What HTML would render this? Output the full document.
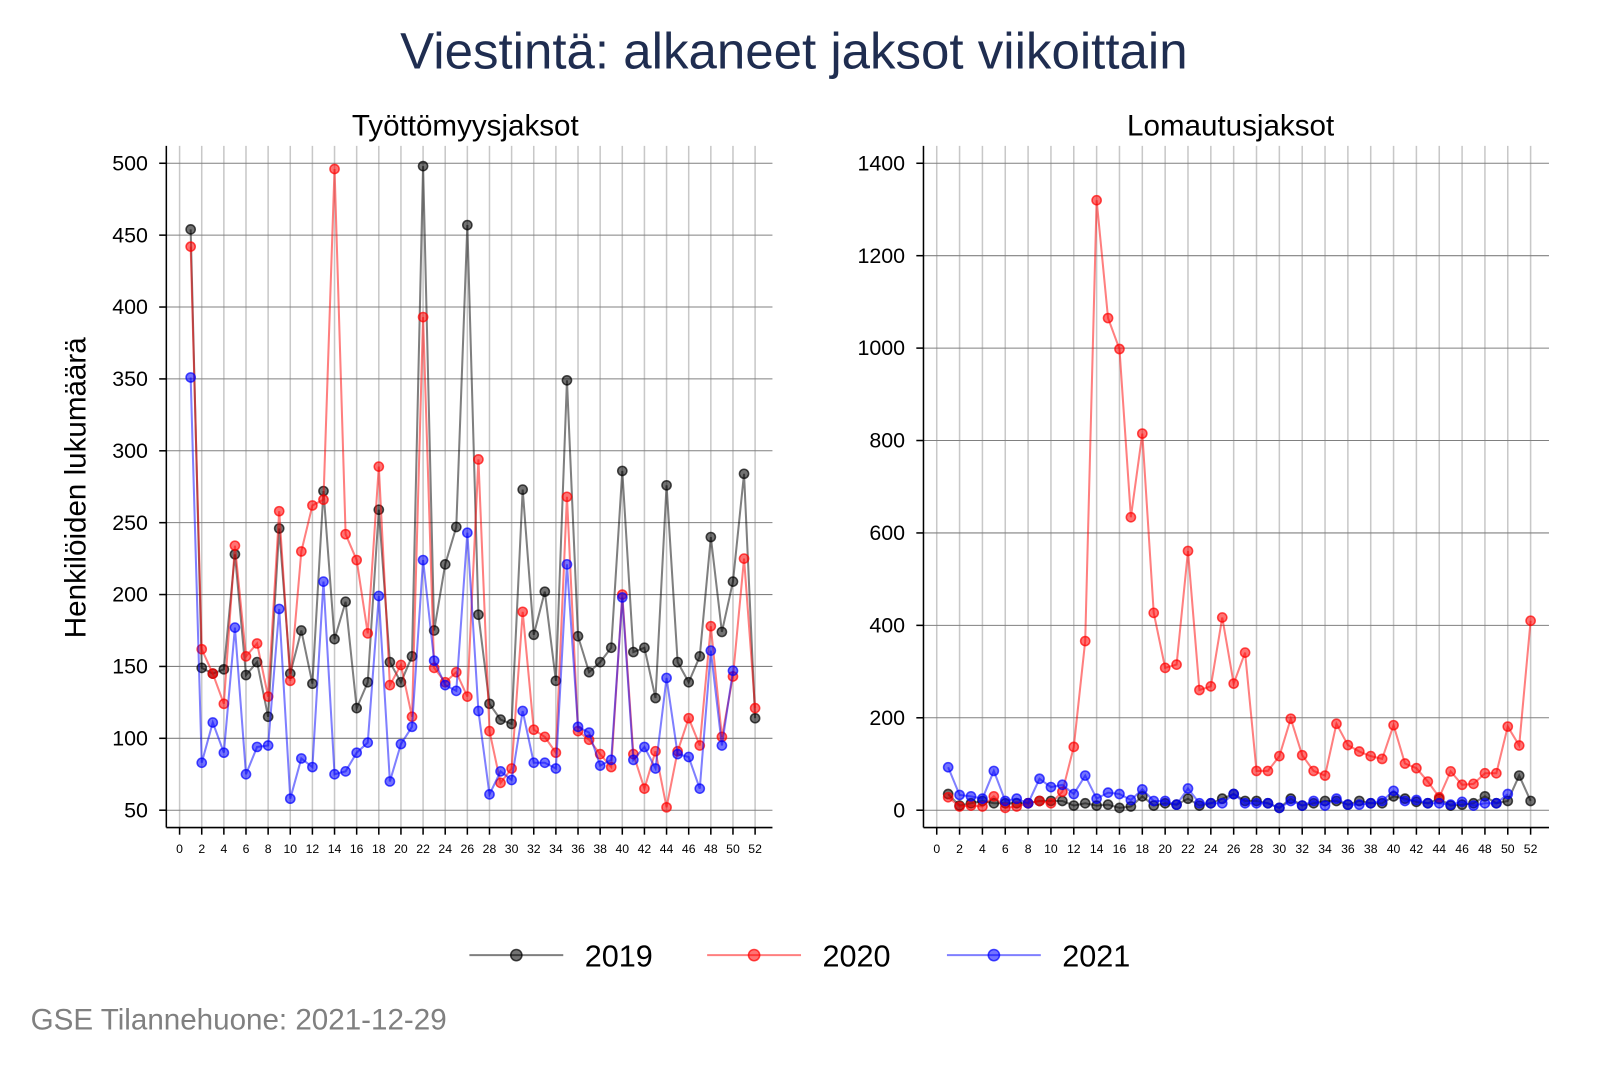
<!DOCTYPE html>
<html><head><meta charset="utf-8"><style>
body{margin:0;background:#fff;}
svg text{font-family:"Liberation Sans",Arial,sans-serif;}
</style></head><body>
<svg id="c" width="1600" height="1067" viewBox="0 0 1568 1045.66" xmlns="http://www.w3.org/2000/svg">
<text x="778" y="67" text-anchor="middle" font-size="50" fill="#1f2d50">Viestintä: alkaneet jaksot viikoittain</text>
<text x="456" y="133" text-anchor="middle" font-size="29" fill="#000">Työttömyysjaksot</text>
<text x="1206" y="133" text-anchor="middle" font-size="29" fill="#000">Lomautusjaksot</text>
<text transform="translate(84,478) rotate(-90)" text-anchor="middle" font-size="29" fill="#000">Henkilöiden lukumäärä</text>
<g id="left"></g>
<g id="right"></g>
<g id="legend"></g>
<text x="30" y="1009" font-size="29" fill="#808080">GSE Tilannehuone: 2021-12-29</text>
</svg>
<script>
const weeks = Array.from({length:52},(_,i)=>i+1);
const years = ['2019','2020','2021'];
const unemp2019 = [454,149,145,148,228,144,153,115,246,145,175,138,272,169,195,121,139,259,153,139,157,498,175,221,247,457,186,124,113,110,273,172,202,140,349,171,146,153,163,286,160,163,128,276,153,139,157,240,174,209,284,114];
const unemp2020 = [442,162,145,124,234,157,166,129,258,140,230,262,266,496,242,224,173,289,137,151,115,393,149,139,146,129,294,105,69,79,188,106,101,90,268,105,99,89,80,200,89,65,91,52,91,114,95,178,101,143,225,121];
const unemp2021 = [351,83,111,90,177,75,94,95,190,58,86,80,209,75,77,90,97,199,70,96,108,224,154,137,133,243,119,61,77,71,119,83,83,79,221,108,104,81,85,198,85,94,79,142,89,87,65,161,95,147];
const layoff2019 = [35,10,15,20,15,15,15,15,20,20,20,10,15,10,12,5,8,30,10,15,12,25,10,15,25,35,20,20,15,5,25,10,15,20,20,12,20,15,15,30,25,18,15,25,10,12,15,30,15,20,75,20];
const layoff2020 = [28,8,10,8,30,5,8,15,20,15,40,137,366,1320,1065,998,634,815,427,308,315,561,260,268,417,274,341,85,85,117,198,119,85,75,187,141,127,117,111,184,101,91,62,28,84,55,57,80,80,181,140,410];
const layoff2021 = [93,33,30,25,85,20,25,15,68,50,55,35,75,25,38,35,22,45,20,20,12,47,15,15,15,35,15,15,15,5,20,10,20,10,25,12,12,15,20,42,20,22,15,15,12,18,10,15,15,35];
const leftTicks = [50,100,150,200,250,300,350,400,450,500];
const rightTicks = [0,200,400,600,800,1000,1200,1400];
const xTicks = Array.from({length:27},(_,i)=>i*2);
const colors = {fill:['#000000','#ff0000','#0000ff']};
const NS='http://www.w3.org/2000/svg';
function mk(parent,tag,attrs){const e=document.createElementNS(NS,tag);for(const k in attrs)e.setAttribute(k,attrs[k]);parent.appendChild(e);return e;}

function panel(g,cfg,series,ticks){
  const xs=w=>cfg.x0+(w)*(cfg.x52-cfg.x0)/52;
  const ys=v=>cfg.yb-(v-cfg.vmin)*(cfg.yb-cfg.yt)/(cfg.vmax-cfg.vmin);
  xTicks.forEach(t=>{
    const l=mk(g,'line',{x1:xs(t),x2:xs(t),y1:cfg.top,y2:cfg.bottom,stroke:'#c8c8c8','stroke-width':1.5});
    
    
  });
  ticks.forEach(t=>{
    const l=mk(g,'line',{x1:cfg.left,x2:cfg.right,y1:ys(t),y2:ys(t),stroke:'#808080','stroke-width':1});
    
    
    mk(g,'line',{x1:cfg.left-7,x2:cfg.left,y1:ys(t),y2:ys(t),stroke:'#000','stroke-width':1.5});
    const tx=mk(g,'text',{x:cfg.left-18,y:ys(t)+7,'text-anchor':'end','font-size':21,fill:'#000'});
    tx.textContent=t;
    
    
  });
  xTicks.forEach(t=>{
    mk(g,'line',{x1:xs(t),x2:xs(t),y1:cfg.bottom,y2:cfg.bottom+7,stroke:'#000','stroke-width':1.5});
    const tx=mk(g,'text',{x:xs(t),y:cfg.bottom+25,'text-anchor':'middle','font-size':12,fill:'#000'});
    tx.textContent=t;
    
    
  });
  mk(g,'line',{x1:cfg.left,x2:cfg.left,y1:cfg.top,y2:cfg.bottom,stroke:'#000','stroke-width':1.5});
  mk(g,'line',{x1:cfg.left,x2:cfg.right,y1:cfg.bottom,y2:cfg.bottom,stroke:'#000','stroke-width':1.5});
  series.forEach((vals,si)=>{
    const pts=vals.map((v,i)=>xs(weeks[i])+','+ys(v)).join(' ');
    const pl=mk(g,'polyline',{points:pts,fill:'none',stroke:colors.fill[si],'stroke-opacity':0.5,'stroke-width':2});
    
    
    vals.forEach((v,i)=>{
      const c=mk(g,'circle',{cx:xs(weeks[i]),cy:ys(v),r:4.5,fill:colors.fill[si],'fill-opacity':0.55,stroke:colors.fill[si],'stroke-opacity':0.7,'stroke-width':1.5});
      
      
    });
  });
}
panel(document.getElementById('left'),{x0:176,x52:740,left:163,right:757,top:143,bottom:811,yb:794,yt:160,vmin:50,vmax:500},[unemp2019,unemp2020,unemp2021],leftTicks);
panel(document.getElementById('right'),{x0:918,x52:1500,left:905,right:1518,top:143,bottom:811,yb:794,yt:160,vmin:0,vmax:1400},[layoff2019,layoff2020,layoff2021],rightTicks);
const lg=document.getElementById('legend');
const lx=[460,693,928];
years.forEach((y,i)=>{
  const g=mk(lg,'g',{});
  
  
  mk(g,'line',{x1:lx[i],x2:lx[i]+92,y1:936,y2:936,stroke:colors.fill[i],'stroke-opacity':0.5,'stroke-width':2});
  mk(g,'circle',{cx:lx[i]+46,cy:936,r:5.5,fill:colors.fill[i],'fill-opacity':0.55,stroke:colors.fill[i],'stroke-opacity':0.7,'stroke-width':1.5});
  const t=mk(g,'text',{x:lx[i]+113,y:947,'font-size':30,fill:'#000'});
  t.textContent=y;
});
</script>
</body></html>
